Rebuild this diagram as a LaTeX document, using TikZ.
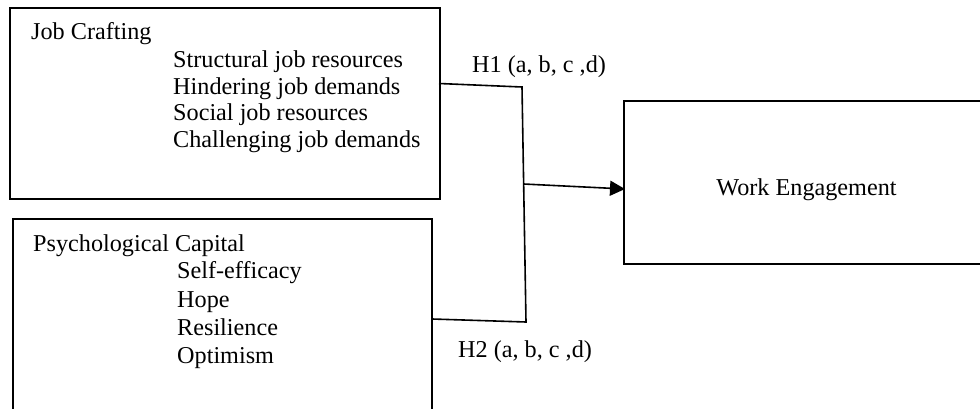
\documentclass[tikz,border=0pt]{standalone}
\usepackage{fontspec}
\setmainfont{Liberation Serif}
\usetikzlibrary{arrows.meta}
\begin{document}
\begin{tikzpicture}[x=1pt,y=-1pt,
  box/.style={draw=black,line width=1.6pt,rectangle,inner sep=0pt,anchor=north west},
  txt/.style={anchor=base west,inner sep=0pt,font=\fontsize{24.2}{26}\selectfont},
  link/.style={draw=black,line width=1.6pt},
  arr/.style={link,-{Triangle[length=15pt,width=15pt]}}]
\useasboundingbox (0,0) rectangle (980,409);
\clip (0,0) rectangle (980,409);
% boxes
\node[box,minimum width=430pt,minimum height=191pt] (jc) at (9,7) {};
\node[box,minimum width=419pt,minimum height=220pt] (pc) at (12,218) {};
\node[box,minimum width=400pt,minimum height=163pt] (we) at (623,100) {};
% texts
\node[txt] (t1) at (31,40) {Job Crafting};
\node[txt] (t2) at (173,68) {Structural job resources};
\node[txt] (t3) at (173,94.5) {Hindering job demands};
\node[txt] (t4) at (173,121) {Social job resources};
\node[txt] (t5) at (173,147) {Challenging job demands};
\node[txt] (p1) at (33,251) {Psychological Capital};
\node[txt] (p2) at (177,278) {Self-efficacy};
\node[txt] (p3) at (177,307) {Hope};
\node[txt] (p4) at (177,335) {Resilience};
\node[txt] (p5) at (177,363) {Optimism};
\node[txt,anchor=base] (w1) at (806.5,195) {Work Engagement};
\node[txt] (h1) at (472,73) {H1 (a, b, c ,d)};
\node[txt] (h2) at (458,357) {H2 (a, b, c ,d)};
% connectors
\coordinate (a1) at (439,83.5);
\coordinate (j1) at (522,87);
\coordinate (a2) at (432,319);
\coordinate (j2) at (526,322);
\coordinate (jm) at (523.5,184);
\coordinate (wein) at (625,189);
\draw[link] (a1) -- (j1) -- (j2) -- (a2);
\draw[arr] (jm) -- (wein);
\end{tikzpicture}
\end{document}
